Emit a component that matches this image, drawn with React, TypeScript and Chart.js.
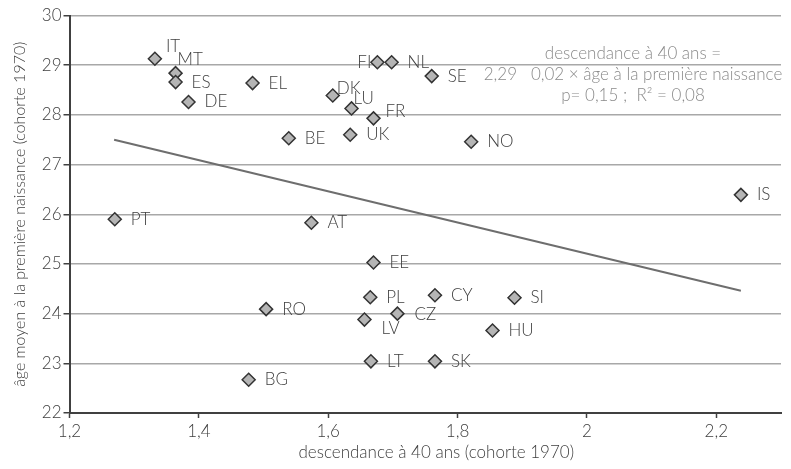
import React, { useEffect, useRef } from "react";
import { Chart, registerables } from "chart.js";

Chart.register(...registerables);

// ---- data ----
const countries = ["IT", "MT", "ES", "DE", "EL", "DK", "LU", "FR", "UK", "BE", "FI", "NL", "SE", "NO", "IS", "PT", "AT", "EE", "PL", "CY", "SI", "RO", "CZ", "LV", "HU", "LT", "SK", "BG"];
const descendance = [1.332, 1.364, 1.364, 1.384, 1.483, 1.607, 1.636, 1.670, 1.634, 1.539, 1.676, 1.698, 1.760, 1.821, 2.238, 1.270, 1.574, 1.670, 1.665, 1.765, 1.888, 1.504, 1.707, 1.656, 1.854, 1.666, 1.765, 1.477];
const ageMoyen = [29.13, 28.84, 28.66, 28.26, 28.64, 28.39, 28.13, 27.93, 27.60, 27.53, 29.06, 29.06, 28.78, 27.46, 26.39, 25.90, 25.83, 25.03, 24.33, 24.37, 24.32, 24.09, 24.00, 23.88, 23.66, 23.04, 23.04, 22.67];
const trendX = [1.269, 2.238];
const trendY = [27.50, 24.46];
const xTicks = [1.2, 1.4, 1.6, 1.8, 2, 2.2];
const yTicks = [22, 23, 24, 25, 26, 27, 28, 29, 30];
const xTitle = "descendance à 40 ans (cohorte 1970)";
const yTitle = "âge moyen à la première naissance (cohorte 1970)";
const annotationLines = ["descendance à 40 ans =", "2,29   0,02 × âge à la première naissance", "p= 0,15 ;  R² = 0,08"];

// ---- label placement (layout only) ----
const labelOffsets: Record<string, [number, number, CanvasTextAlign]> = {
  IT: [11, -12, "left"],
  MT: [2, -14, "left"],
  DK: [4, -7, "left"],
  LU: [2, -10, "left"],
  FR: [12, -7, "left"],
  FI: [-6, 0, "right"],
  LV: [17, 9, "left"],
  CZ: [17, 1, "left"],
};
const defaultOffset: [number, number, CanvasTextAlign] = [16, 0, "left"];

const FONT = "Lato, 'Open Sans', 'DejaVu Sans', sans-serif";
const WEIGHT = "300";
const DARK = "#404040";

const fmt = (v: number) => String(v).replace(".", ",");

const labelsPlugin = {
  id: "pointLabels",
  afterDatasetsDraw(chart: any) {
    const ctx = chart.ctx;
    const meta = chart.getDatasetMeta(0);
    ctx.save();
    ctx.font = `${WEIGHT} 17px ${FONT}`;
    ctx.fillStyle = DARK;
    ctx.textBaseline = "middle";
    meta.data.forEach((pt: any, i: number) => {
      const name = countries[i];
      const [dx, dy, align] = labelOffsets[name] || defaultOffset;
      ctx.textAlign = align;
      ctx.fillText(name, pt.x + dx, pt.y + dy);
    });
    ctx.restore();
  },
};

const textPlugin = {
  id: "extraText",
  afterDraw(chart: any) {
    const ctx = chart.ctx;
    const { chartArea } = chart;
    ctx.save();
    // annotation
    ctx.font = `${WEIGHT} 17px ${FONT}`;
    ctx.fillStyle = "#8a8a8a";
    ctx.textAlign = "center";
    ctx.textBaseline = "middle";
    const ax = chartArea.right - 148;
    annotationLines.forEach((t, i) => {
      ctx.fillText(t, ax, chartArea.top + 38 + i * 21);
    });
    // axis titles
    ctx.fillStyle = DARK;
    ctx.font = `${WEIGHT} 17px ${FONT}`;
    ctx.fillText(xTitle, (chartArea.left + chartArea.right) / 2 + 11, chart.height - 16);
    ctx.font = `${WEIGHT} 16px ${FONT}`;
    ctx.translate(20, (chartArea.top + chartArea.bottom) / 2);
    ctx.rotate(-Math.PI / 2);
    ctx.fillText(yTitle, 0, 0);
    ctx.restore();
  },
};

export default function App() {
  const ref = useRef<HTMLCanvasElement | null>(null);
  useEffect(() => {
    if (!ref.current) return;
    const chart = new Chart(ref.current, {
      type: "scatter",
      data: {
        datasets: [
          {
            type: "scatter",
            data: descendance.map((x, i) => ({ x, y: ageMoyen[i] })),
            pointStyle: "rectRot",
            pointRadius: 6.5,
            pointBackgroundColor: "#b5b5b5",
            pointBorderColor: "#333333",
            pointBorderWidth: 1.5,
            order: 0,
          },
          {
            type: "line",
            data: trendX.map((x, i) => ({ x, y: trendY[i] })),
            borderColor: "#6e6e6e",
            borderWidth: 2,
            pointRadius: 0,
            showLine: true,
            fill: false,
            order: 1,
          } as any,
        ],
      },
      options: {
        responsive: false,
        animation: false,
        devicePixelRatio: 1,
        layout: { padding: { left: 0, top: 15.5, right: 10, bottom: 0 } },
        plugins: { legend: { display: false }, tooltip: { enabled: false } },
        font: { family: FONT },
        scales: {
          x: {
            type: "linear",
            min: 1.2,
            max: 2.3,
            afterFit: (s: any) => { s.height = 56; },
            afterBuildTicks: (s: any) => { s.ticks = xTicks.map((v) => ({ value: v })); },
            ticks: {
              color: DARK,
              font: { size: 17, family: FONT, weight: WEIGHT },
              padding: 3,
              maxRotation: 0,
              autoSkip: false,
              callback: (v: any) => fmt(Number(v)),
            },
            grid: { drawOnChartArea: false, drawTicks: true, tickLength: 5, tickColor: DARK, tickWidth: 1.5 },
            border: { color: DARK, width: 2 },
          },
          y: {
            type: "linear",
            min: 22,
            max: 30,
            afterFit: (s: any) => { s.width = 69.5; },
            afterBuildTicks: (s: any) => { s.ticks = yTicks.map((v) => ({ value: v })); },
            ticks: {
              color: DARK,
              font: { size: 17, family: FONT, weight: WEIGHT },
              padding: 2,
              callback: (v: any) => fmt(Number(v)),
            },
            grid: { color: "#a8a8a8", lineWidth: 1.5, tickLength: 6, tickColor: DARK, tickWidth: 1.5 },
            border: { color: DARK, width: 2 },
          },
        },
      } as any,
      plugins: [labelsPlugin, textPlugin],
    });
    return () => chart.destroy();
  }, []);
  return (
    <div style={{ position: "fixed", left: 0, top: 0, width: 791, height: 469, background: "#fff" }}>
      <canvas ref={ref} width={791} height={469} style={{ width: 791, height: 469 }} />
    </div>
  );
}
